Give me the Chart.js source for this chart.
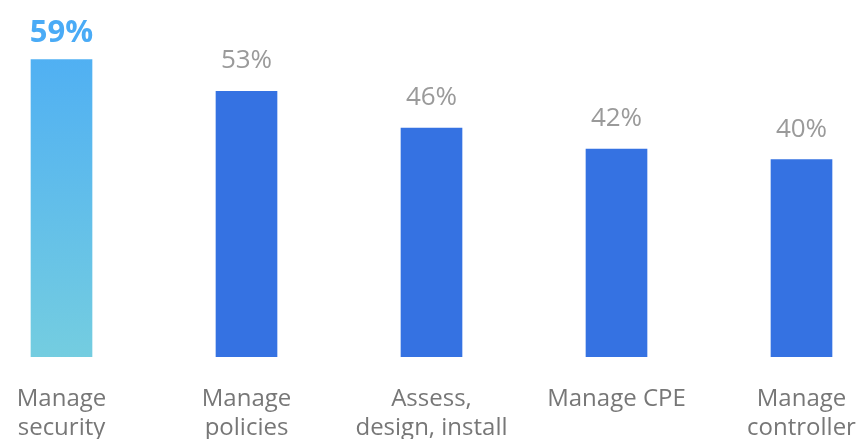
<!DOCTYPE html>
<html>
<head>
<meta charset="utf-8">
<script src="https://cdn.jsdelivr.net/npm/chart.js@4/dist/chart.umd.min.js"></script>
<style>
  html, body { margin: 0; padding: 0; background: #fff; }
  #wrap { width: 858px; height: 439px; position: relative; overflow: hidden; }
  /* plot area is wider than the window: outer categories are half cut */
  #inner { position: absolute; left: -31px; top: 0; width: 925px; height: 439px; }
</style>
</head>
<body>
<div id="wrap"><div id="inner"><canvas id="chart"></canvas></div></div>
<script>
const categories = [
  ['Manage', 'security'],
  ['Manage', 'policies'],
  ['Assess,', 'design, install'],
  ['Manage CPE'],
  ['Manage', 'controller']
];
const values = [59, 53, 46, 42, 40];
const valueLabels = ['59%', '53%', '46%', '42%', '40%'];

const blue = '#3572e2';
const gradTop = '#4aabf6';
const gradBottom = '#74cde0';

// value labels above the bars
const valueLabelPlugin = {
  id: 'valueLabels',
  afterDatasetsDraw(chart) {
    const ctx = chart.ctx;
    const meta = chart.getDatasetMeta(0);
    ctx.save();
    ctx.textAlign = 'center';
    ctx.textBaseline = 'alphabetic';
    meta.data.forEach((bar, i) => {
      if (i === 0) {
        ctx.font = 'bold 31px "Open Sans"';
        ctx.fillStyle = gradTop;
        ctx.fillText(valueLabels[i], bar.x, bar.y - 18);
      } else {
        ctx.font = '26px "Open Sans"';
        ctx.fillStyle = '#9a9a9a';
        ctx.fillText(valueLabels[i], bar.x, bar.y - 23);
      }
    });
    ctx.restore();
  }
};

const ctx = document.getElementById('chart').getContext('2d');
new Chart(ctx, {
  type: 'bar',
  data: {
    labels: categories,
    datasets: [{
      data: values,
      barThickness: 61,
      backgroundColor: (c) => {
        if (c.dataIndex !== 0) return blue;
        const area = c.chart.chartArea;
        if (!area) return gradTop;
        const bar = c.chart.getDatasetMeta(0).data[0];
        const top = bar && isFinite(bar.y) ? bar.y : area.top;
        const g = c.chart.ctx.createLinearGradient(0, top, 0, area.bottom);
        g.addColorStop(0, gradTop);
        g.addColorStop(1, gradBottom);
        return g;
      }
    }]
  },
  options: {
    responsive: true,
    maintainAspectRatio: false,
    animation: false,
    layout: { padding: { top: 7, left: 0, right: 0, bottom: 0 } },
    plugins: { legend: { display: false }, tooltip: { enabled: false } },
    scales: {
      x: {
        grid: { display: false, drawTicks: false },
        border: { display: false },
        afterFit(scale) { scale.height = 82; },
        ticks: {
          padding: 28,
          maxRotation: 0,
          autoSkip: false,
          color: '#777777',
          font: { family: 'Open Sans', size: 24, lineHeight: 1.2 }
        }
      },
      y: {
        display: false,
        min: 2.5,
        max: 69
      }
    }
  },
  plugins: [valueLabelPlugin]
});
</script>
</body>
</html>
